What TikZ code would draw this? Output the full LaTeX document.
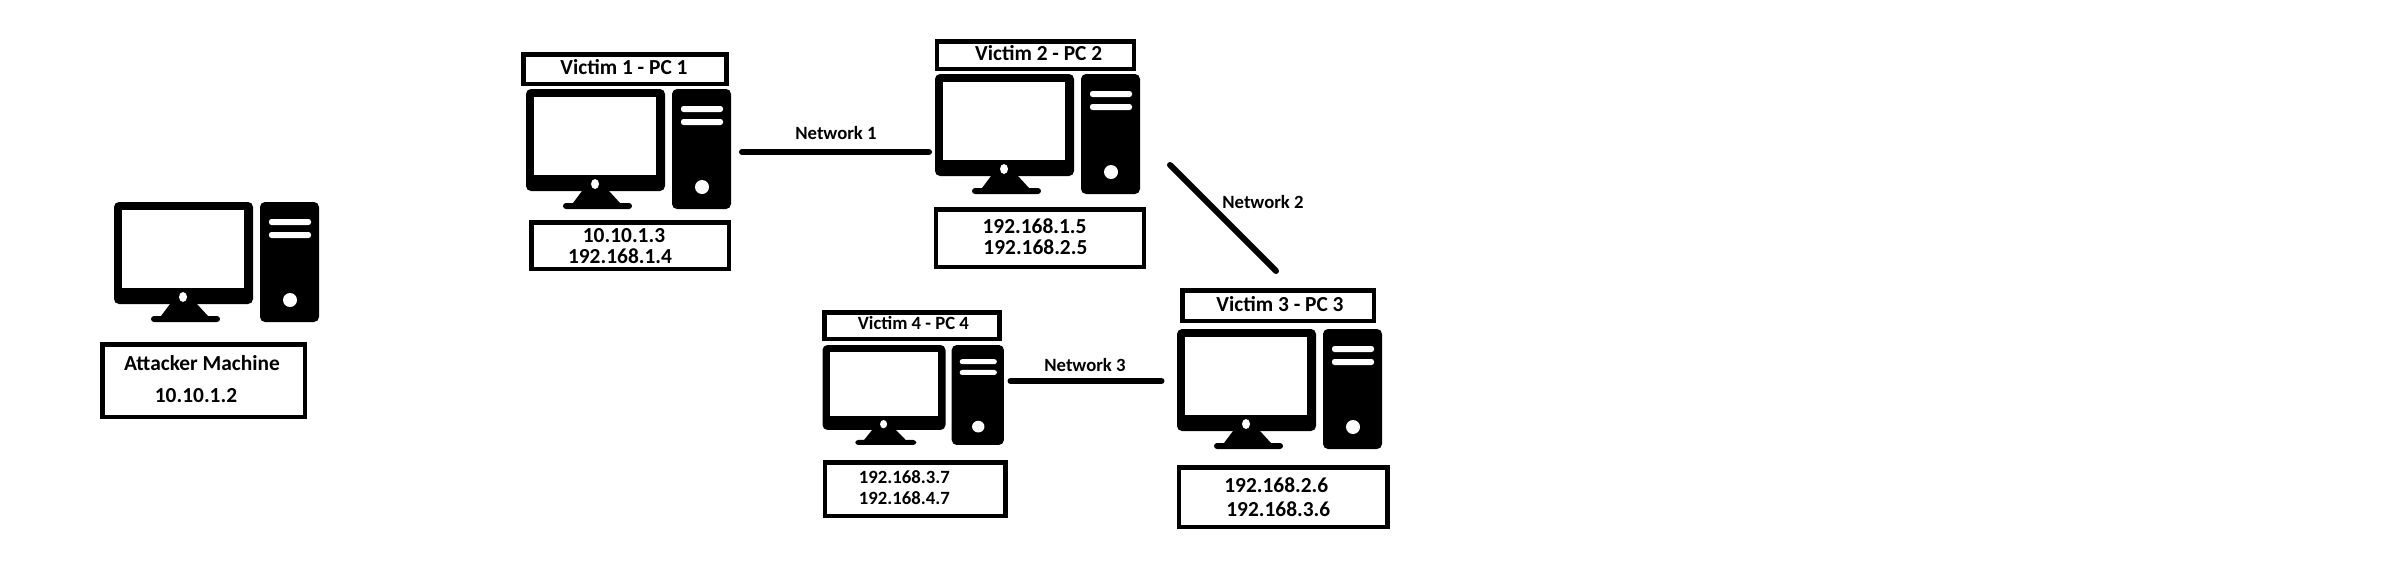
\documentclass[tikz,border=0pt]{standalone}
\usepackage{fontspec}
\setmainfont{Carlito}
\usetikzlibrary{positioning}

\begin{document}
\begin{tikzpicture}[x=1pt, y=-1pt,
		basic/.style   = {draw, line width=4.5pt, rectangle, outer sep=0pt, inner sep=0pt, align=center, fill=white},
		iptext/.style  = {inner sep=0pt, font=\fontsize{21.4}{24}\selectfont\bfseries},
		ipsmall/.style = {inner sep=0pt, font=\fontsize{18.7}{22}\selectfont\bfseries},
		netname/.style = {inner sep=0pt, font=\fontsize{18.7}{22}\selectfont\bfseries},
		link/.style    = {draw, line width=6pt, line cap=round},
		computer/.pic  = {
			% monitor and tower, drawn in a box 205 wide, 120 high
			\fill[rounded corners=5pt] (0,0) rectangle (139,102);
			\fill[white] (8,8) rectangle (130,85.5);
			\fill[white] (69,95) ellipse [x radius=4, y radius=5];
			\fill (56,102) -- (47,114) -- (94,114) -- (83,102) -- cycle;
			\fill[rounded corners=3pt] (37,114) rectangle (106,120);
			\fill[rounded corners=5pt] (146,0) rectangle (205,120);
			\foreach \slot in {17,30}
			\fill[white, rounded corners=2.5pt] (155,\slot) rectangle (197,\slot+6);
			\fill[white] (176,98) circle (7);
		}]
		
		\useasboundingbox (0,0) rectangle (2404,587);
		\fill[white] (0,0) rectangle (2404,587);
		
		% the machines
		\pic (pc0) at (114,202) {computer};
		\pic (pc1) at (526,89) {computer};
		\pic (pc2) at (935,74) {computer};
		\pic (pc3) at (1177,329) {computer};
		\pic[xscale=0.885, yscale=0.833] (pc4) at (822.5,345) {computer};
		
		% titles above the machines
		\node[basic, minimum width=202.5pt, minimum height=72.5pt] (box0) at (203.5,380.5) {};
		\node[basic, minimum width=203pt, minimum height=29.5pt] (title1) at (624.8,69) {};
		\node[basic, minimum width=197pt, minimum height=27.5pt] (title2) at (1035.6,55) {};
		\node[basic, minimum width=191.5pt, minimum height=30.5pt] (title3) at (1278,305.5) {};
		\node[basic, minimum width=174.6pt, minimum height=26.5pt] (title4) at (912,325.5) {};
		
		\node[iptext] (name0) at (202,363) {Attacker Machine};
		\node[iptext] (name1) at (624,67) {Victim 1 - PC 1};
		\node[iptext] (name2) at (1038.7,53) {Victim 2 - PC 2};
		\node[iptext] (name3) at (1280,304) {Victim 3 - PC 3};
		\node[ipsmall] (name4) at (913.4,323) {Victim 4 - PC 4};
		
		% address boxes below the machines
		\node[basic, minimum width=197.5pt, minimum height=46.5pt] (box1) at (630,245.5) {};
		\node[basic, minimum width=208pt, minimum height=57.5pt] (box2) at (1039.8,238) {};
		\node[basic, minimum width=208.5pt, minimum height=59.5pt] (box3) at (1283,497) {};
		\node[basic, minimum width=180.5pt, minimum height=53.5pt] (box4) at (915,489) {};
		
		\node[iptext] (ip0) at (196,396) {10.10.1.2};
		\node[iptext] (ip11) at (624,236) {10.10.1.3};
		\node[iptext] (ip12) at (620,256) {192.168.1.4};
		\node[iptext] (ip21) at (1034.5,226) {192.168.1.5};
		\node[iptext] (ip22) at (1035.4,247) {192.168.2.5};
		\node[iptext] (ip31) at (1276.3,485) {192.168.2.6};
		\node[iptext] (ip32) at (1278.3,509) {192.168.3.6};
		\node[ipsmall] (ip41) at (904.3,477) {192.168.3.7};
		\node[ipsmall] (ip42) at (904.3,498) {192.168.4.7};
		
		% the networks
		\coordinate (a1) at (742,152);
		\coordinate (b1) at (929,152);
		\coordinate (a2) at (1170,165);
		\coordinate (b2) at (1276,271);
		\coordinate (a3) at (1010.5,381);
		\coordinate (b3) at (1161.5,381);
		\foreach \value in {1,2,3}
		\draw[link] (a\value) -- (b\value);
		
		\node[netname] (net1) at (836,133) {Network 1};
		\node[netname] (net2) at (1263,202) {Network 2};
		\node[netname] (net3) at (1085,365) {Network 3};
		
	\end{tikzpicture}
\end{document}
